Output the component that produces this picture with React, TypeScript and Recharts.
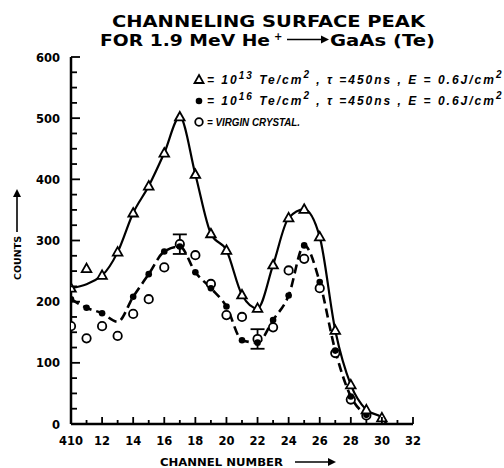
import React from 'react';
import { ComposedChart, Line, Scatter, XAxis, YAxis, ErrorBar } from 'recharts';

// 10^13 Te/cm^2 (triangles, solid line)
const triChannels = [10, 12, 13, 14, 15, 16, 17, 18, 19, 20, 21, 22, 23, 24, 25, 26, 27, 28, 29, 30];
const triCounts = [222, 243, 281, 345, 389, 443, 502, 408, 311, 284, 211, 189, 260, 337, 351, 306, 153, 64, 23, 10];
const triLineEndChannel = 30.3;
const triLineEndCount = 0;
const triOutlierChannels = [11];
const triOutlierCounts = [254];

// 10^16 Te/cm^2 (filled dots, dashed line)
const dotChannels = [10, 11, 12, 13, 14, 15, 16, 17, 18, 19, 20, 21, 22, 23, 24, 25, 26, 27, 28, 29];
const dotCounts = [204, 190, 181, 167, 208, 245, 282, 290, 248, 222, 192, 137, 133, 170, 210, 292, 232, 120, 45, 15];

// virgin crystal (open circles)
const circleChannels = [10, 11, 12, 13, 14, 15, 16, 17, 18, 19, 20, 21, 22, 23, 24, 25, 26, 27, 28, 29];
const circleCounts = [160, 140, 160, 144, 180, 204, 256, 294, 276, 229, 178, 175, 139, 158, 251, 270, 222, 116, 40, 14];

// error bars
const errChannels = [17, 22];
const errCounts = [294, 139];
const errSizes = [16, 16];

// axes
const xTicks = [10, 11, 12, 13, 14, 15, 16, 17, 18, 19, 20, 21, 22, 23, 24, 25, 26, 27, 28, 29, 30, 31, 32];
const xTickLabels: Record<number, string> = {
  10: '410', 12: '12', 14: '14', 16: '16', 18: '18', 20: '20', 22: '22',
  24: '24', 26: '26', 28: '28', 30: '30', 32: '32',
};
const yMajorTicks = [0, 100, 200, 300, 400, 500, 600];
const yTicks = [0, 25, 50, 75, 100, 125, 150, 175, 200, 225, 250, 275, 300, 325, 350, 375, 400, 425, 450, 475, 500, 525, 550, 575, 600];

const triLineData = [
  ...triChannels.map((x, i) => ({ x, y: triCounts[i] })),
  { x: triLineEndChannel, y: triLineEndCount },
];
const triMarkerData = triChannels.map((x, i) => ({ x, y: triCounts[i] }));
const triOutlierData = triOutlierChannels.map((x, i) => ({ x, y: triOutlierCounts[i] }));
const dotData = dotChannels.map((x, i) => ({ x, y: dotCounts[i] }));
const dotMarkerData = dotData.filter((d) => d.x !== 13);
const circleData = circleChannels.map((x, i) => ({ x, y: circleCounts[i] }));
const errData = errChannels.map((x, i) => ({ x, y: errCounts[i], err: errSizes[i] }));

const FONT = 'DejaVu Sans';
const LEG = 'Liberation Sans';

const XTick = (props: any) => {
  const { x, y, payload } = props;
  const v = payload.value;
  const major = v % 2 === 0;
  const label = xTickLabels[v];
  return (
    <g>
      <line x1={x} x2={x} y1={y} y2={y - (major ? 7 : 4)} stroke="#000" strokeWidth={1.8} />
      {label && (
        <text x={x} y={y + 21} textAnchor="middle" fontFamily={FONT} fontWeight="bold" fontSize={11.5} fill="#000">
          {label}
        </text>
      )}
    </g>
  );
};

const YTick = (props: any) => {
  const { x, y, payload } = props;
  const v = payload.value;
  const major = yMajorTicks.includes(v);
  return (
    <g>
      <line x1={x} x2={x + (major ? 9 : 6)} y1={y} y2={y} stroke="#000" strokeWidth={1.8} />
      {major && (
        <text x={x - 11} y={y + 4.5} textAnchor="end" fontFamily={FONT} fontWeight="bold" fontSize={11.5} fill="#000">
          {v}
        </text>
      )}
    </g>
  );
};

const Triangle = (props: any) => {
  const { cx, cy } = props;
  if (cx == null || cy == null) return <g />;
  return (
    <path
      d={`M${cx},${cy - 5} L${cx + 4.8},${cy + 3.5} L${cx - 4.8},${cy + 3.5} Z`}
      fill="#fff"
      stroke="#000"
      strokeWidth={1.8}
    />
  );
};

const Dot = (props: any) => {
  const { cx, cy } = props;
  if (cx == null || cy == null) return <g />;
  return <circle cx={cx} cy={cy} r={3.3} fill="#000" />;
};

const OpenCircle = (props: any) => {
  const { cx, cy } = props;
  if (cx == null || cy == null) return <g />;
  return <circle cx={cx} cy={cy} r={4.2} fill="#fff" stroke="#000" strokeWidth={1.8} />;
};

const Empty = () => <g />;

export default function App() {
  return (
    <div style={{ position: 'absolute', left: 0, top: 0, width: 504, height: 468, background: '#fff' }}>
      <ComposedChart
        width={504}
        height={468}
        margin={{ top: 57, right: 91, bottom: 24, left: 31 }}
      >
        <XAxis
          dataKey="x"
          type="number"
          domain={[10, 32]}
          ticks={xTicks}
          interval={0}
          allowDataOverflow
          height={20}
          tickSize={0}
          tickMargin={0}
          tickLine={false}
          axisLine={{ stroke: '#000', strokeWidth: 2.5 }}
          tick={(p: any) => <XTick {...p} />}
        />
        <YAxis
          dataKey="y"
          type="number"
          domain={[0, 600]}
          ticks={yTicks}
          interval={0}
          allowDataOverflow
          width={40}
          tickSize={0}
          tickMargin={0}
          tickLine={false}
          axisLine={{ stroke: '#000', strokeWidth: 2.5 }}
          tick={(p: any) => <YTick {...p} />}
        />
        <Line
          data={triLineData}
          dataKey="y"
          type="monotone"
          stroke="#000"
          strokeWidth={2.2}
          dot={false}
          activeDot={false}
          isAnimationActive={false}
        />
        <Line
          data={dotData}
          dataKey="y"
          type="monotone"
          stroke="#000"
          strokeWidth={2.6}
          strokeDasharray="9 5"
          dot={false}
          activeDot={false}
          isAnimationActive={false}
        />
        <Scatter data={errData} dataKey="y" shape={Empty} isAnimationActive={false}>
          <ErrorBar dataKey="err" direction="y" width={7} stroke="#000" strokeWidth={1.8} isAnimationActive={false} />
        </Scatter>
        <Scatter data={circleData} dataKey="y" shape={OpenCircle} isAnimationActive={false} />
        <Scatter data={dotMarkerData} dataKey="y" shape={Dot} isAnimationActive={false} />
        <Scatter data={triMarkerData} dataKey="y" shape={Triangle} isAnimationActive={false} />
        <Scatter data={triOutlierData} dataKey="y" shape={Triangle} isAnimationActive={false} />
      </ComposedChart>
      <svg
        width={504}
        height={468}
        style={{ position: 'absolute', left: 0, top: 0, pointerEvents: 'none' }}
      >
        {/* title */}
        <text x={112} y={27} textLength={313} lengthAdjust="spacingAndGlyphs" fontFamily={FONT} fontWeight="bold" fontSize={16} fill="#000">
          CHANNELING SURFACE PEAK
        </text>
        <text x={100} y={45.5} textLength={170} lengthAdjust="spacingAndGlyphs" fontFamily={FONT} fontWeight="bold" fontSize={16} fill="#000">
          FOR 1.9 MeV He
        </text>
        <text x={274} y={40} fontFamily={FONT} fontWeight="bold" fontSize={10} fill="#000">+</text>
        <line x1={287} x2={322} y1={39.5} y2={39.5} stroke="#000" strokeWidth={1.6} />
        <polygon points="321,35.5 329,39.5 321,43.5" fill="#000" />
        <text x={330} y={45.5} textLength={105} lengthAdjust="spacingAndGlyphs" fontFamily={FONT} fontWeight="bold" fontSize={16} fill="#000">
          GaAs (Te)
        </text>

        {/* legend */}
        <path d="M199,75 L203.5,83 L194.5,83 Z" fill="#fff" stroke="#000" strokeWidth={1.8} />
        <text x={207} y={84} fontFamily={LEG} fontStyle="italic" fontWeight="bold" fontSize={12} letterSpacing={2} fill="#000">
          = 10<tspan dy={-5} fontSize={10}>13</tspan>
          <tspan dy={5}> Te/cm</tspan>
          <tspan dy={-6} fontSize={10}>2</tspan>
          <tspan dy={6}> , τ =450ns , E = 0.6J/cm</tspan>
          <tspan dy={-6} fontSize={10}>2</tspan>
        </text>
        <circle cx={199} cy={101} r={3.3} fill="#000" />
        <text x={207} y={105} fontFamily={LEG} fontStyle="italic" fontWeight="bold" fontSize={12} letterSpacing={2} fill="#000">
          = 10<tspan dy={-5} fontSize={10}>16</tspan>
          <tspan dy={5}> Te/cm</tspan>
          <tspan dy={-6} fontSize={10}>2</tspan>
          <tspan dy={6}> , τ =450ns , E = 0.6J/cm</tspan>
          <tspan dy={-6} fontSize={10}>2</tspan>
        </text>
        <circle cx={199} cy={122} r={3.8} fill="#fff" stroke="#000" strokeWidth={1.8} />
        <text x={207} y={126} textLength={93} lengthAdjust="spacingAndGlyphs" fontFamily={LEG} fontStyle="italic" fontWeight="bold" fontSize={11.5} fill="#000">
          = VIRGIN CRYSTAL.
        </text>

        {/* y axis label */}
        <g transform="translate(21,258) rotate(-90)">
          <text x={0} y={0} textAnchor="middle" fontFamily={FONT} fontWeight="bold" fontSize={9.5} fill="#000">
            COUNTS
          </text>
        </g>
        <line x1={17} x2={17} y1={232} y2={196} stroke="#000" strokeWidth={1.6} />
        <polygon points="13,197 17,189 21,197" fill="#000" />

        {/* x axis label */}
        <text x={160} y={466} textLength={123} lengthAdjust="spacingAndGlyphs" fontFamily={FONT} fontWeight="bold" fontSize={10} fill="#000">
          CHANNEL NUMBER
        </text>
        <line x1={295} x2={329} y1={462} y2={462} stroke="#000" strokeWidth={1.6} />
        <polygon points="328,458 336,462 328,466" fill="#000" />
      </svg>
    </div>
  );
}
